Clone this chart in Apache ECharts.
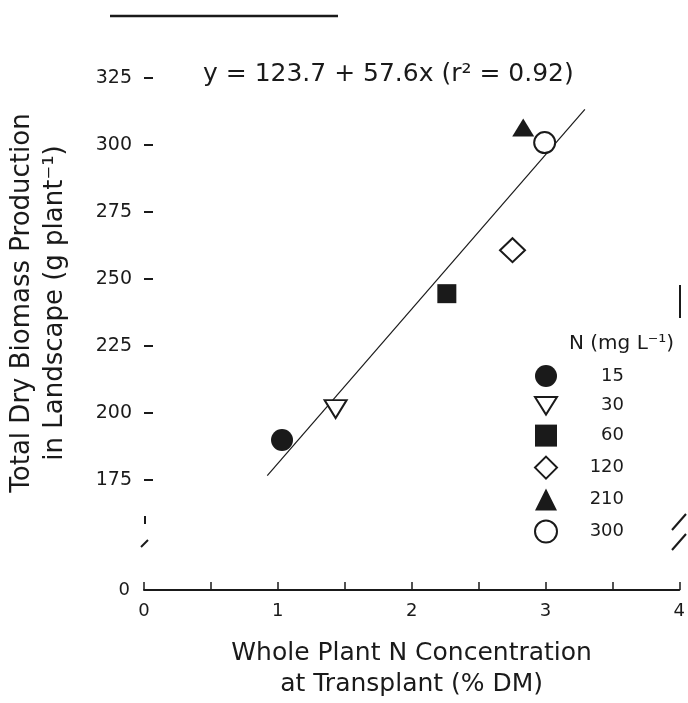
<!DOCTYPE html>
<html>
<head>
<meta charset="utf-8">
<script src="https://cdn.jsdelivr.net/npm/echarts@6/dist/echarts.min.js"></script>
<style>
  html, body { margin: 0; padding: 0; background: #fff; }
  #chart { width: 688px; height: 703px; }
</style>
</head>
<body>
<div id="chart"></div>
<script>
// N rate treatments (mg L-1) and their measured values
const nLevels = ['15', '30', '60', '120', '210', '300']
const nConcentration = [1.03, 1.43, 2.26, 2.75, 2.83, 2.99]   // % DM
const biomass = [190, 201.5, 244.5, 260.7, 306.4, 300.8]      // g plant-1

// fitted line end points
const fitLine = [[0.92, 176.7], [3.29, 313.2]]

const yTicks = [175, 200, 225, 250, 275, 300, 325]
const xLabels = [0, 1, 2, 3, 4]
const xTicks = [0, 0.5, 1, 1.5, 2, 2.5, 3, 3.5, 4]

const symbols = [
  { symbol: 'circle', size: 22, fill: '#1a1a1a' },
  { symbol: 'path://M0,0 L2,0 L1,1.6 Z', size: [22, 18], fill: '#fff' },
  { symbol: 'rect', size: [19, 19], fill: '#1a1a1a' },
  { symbol: 'diamond', size: [25, 24], fill: '#fff' },
  { symbol: 'triangle', size: [22, 18], fill: '#1a1a1a' },
  { symbol: 'circle', size: 21, fill: '#fff' }
]

const font = 'DejaVu Sans'
const ink = '#1a1a1a'

const chart = echarts.init(document.getElementById('chart'), null, { renderer: 'canvas' })

const pointSeries = nLevels.map((name, i) => ({
  name: name,
  type: 'scatter',
  xAxisIndex: 0,
  yAxisIndex: 0,
  symbol: symbols[i].symbol,
  symbolSize: symbols[i].size,
  itemStyle: {
    color: symbols[i].fill,
    borderColor: ink,
    borderWidth: symbols[i].fill === '#fff' ? 2 : 0,
    opacity: 1
  },
  z: 5,
  data: [[nConcentration[i], biomass[i]]]
}))

const option = {
  animation: false,
  backgroundColor: '#fff',
  textStyle: { fontFamily: font, color: ink },
  title: [
    {
      text: 'y = 123.7 + 57.6x (r² = 0.92)',
      left: 198,
      top: 57,
      textStyle: { fontFamily: font, fontSize: 25, fontWeight: 'normal', color: ink }
    },
    {
      text: 'N (mg L⁻¹)',
      left: 564,
      top: 329,
      textStyle: { fontFamily: font, fontSize: 20, fontWeight: 'normal', color: ink }
    }
  ],
  grid: [
    { left: 144, right: 8, top: 24, bottom: 196 },
    { left: 144, right: 8, top: 560, bottom: 113 }
  ],
  xAxis: [
    { gridIndex: 0, type: 'value', min: 0, max: 4, show: false },
    {
      gridIndex: 1,
      type: 'value',
      min: 0,
      max: 4,
      name: 'Whole Plant N Concentration\nat Transplant (% DM)',
      nameLocation: 'middle',
      nameGap: 48,
      nameTextStyle: { fontFamily: font, fontSize: 25, color: ink, lineHeight: 31 },
      axisLine: { show: true, lineStyle: { color: ink, width: 2 } },
      axisTick: { show: true, inside: true, length: 8, customValues: xTicks, lineStyle: { color: ink, width: 1.5 } },
      axisLabel: { customValues: xLabels, margin: 12, fontFamily: font, fontSize: 18, color: ink },
      splitLine: { show: false }
    }
  ],
  yAxis: [
    {
      gridIndex: 0,
      type: 'value',
      min: 165,
      max: 345,
      axisLine: { show: false },
      axisTick: { show: true, inside: true, length: 9, customValues: yTicks, lineStyle: { color: ink, width: 2 } },
      axisLabel: { customValues: yTicks, margin: 12, fontFamily: font, fontSize: 19, color: ink },
      splitLine: { show: false }
    },
    {
      gridIndex: 1,
      type: 'value',
      min: 0,
      max: 10,
      axisLine: { show: false },
      axisTick: { show: false },
      axisLabel: { customValues: [0], margin: 14, fontFamily: font, fontSize: 18, color: ink },
      splitLine: { show: false }
    }
  ],
  legend: {
    orient: 'vertical',
    left: 529,
    top: 360,
    itemWidth: 22,
    itemHeight: 22,
    itemGap: 9,
    data: nLevels,
    formatter: name => '{v|' + name + '}',
    textStyle: {
      fontFamily: font,
      fontSize: 18,
      color: ink,
      rich: { v: { width: 62, align: 'right', fontFamily: font, fontSize: 18, color: ink } }
    }
  },
  series: [
    {
      name: 'fit',
      type: 'line',
      xAxisIndex: 0,
      yAxisIndex: 0,
      data: fitLine,
      symbol: 'none',
      lineStyle: { color: ink, width: 1.2 },
      z: 2
    },
    ...pointSeries
  ],
  graphic: [
    // y-axis title, two lines
    {
      type: 'text',
      x: 39,
      y: 303,
      rotation: Math.PI / 2,
      style: {
        text: 'Total Dry Biomass Production\nin Landscape (g plant⁻¹)',
        fontFamily: font,
        fontSize: 26,
        lineHeight: 33,
        fill: ink,
        textAlign: 'center',
        textVerticalAlign: 'middle'
      }
    },
    // axis break marks
    { type: 'line', shape: { x1: 145, y1: 516, x2: 145, y2: 524 }, style: { stroke: ink, lineWidth: 2 } },
    { type: 'line', shape: { x1: 141, y1: 547, x2: 148, y2: 540 }, style: { stroke: ink, lineWidth: 2 } },
    { type: 'line', shape: { x1: 672, y1: 530, x2: 686, y2: 514 }, style: { stroke: ink, lineWidth: 2 } },
    { type: 'line', shape: { x1: 672, y1: 550, x2: 686, y2: 534 }, style: { stroke: ink, lineWidth: 2 } },
    // remnants of the frame seen in the scan
    { type: 'line', shape: { x1: 110, y1: 16, x2: 338, y2: 16 }, style: { stroke: ink, lineWidth: 2.5 } },
    { type: 'line', shape: { x1: 680, y1: 285, x2: 680, y2: 318 }, style: { stroke: ink, lineWidth: 2 } }
  ]
}

chart.setOption(option)
</script>
</body>
</html>
